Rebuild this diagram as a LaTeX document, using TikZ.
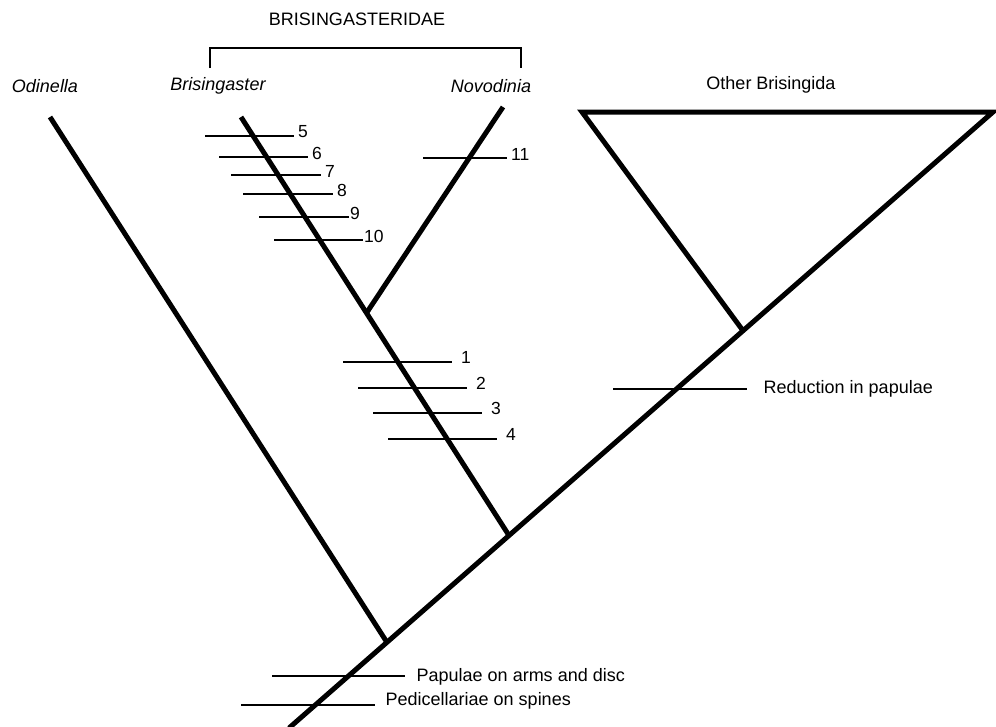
\documentclass[tikz,border=0pt]{standalone}
\usepackage{fontspec}
\setmainfont{Liberation Sans}
\usepackage{tikz}
\tikzstyle{branch}=[line width=5pt,line join=miter]
\tikzstyle{hatch}=[line width=2.4pt]
\tikzstyle{bracket}=[line width=2pt]
\tikzstyle{taxon}=[font=\fontsize{18}{20}\selectfont\itshape]
\tikzstyle{clade}=[font=\fontsize{18}{20}\selectfont]
\tikzstyle{num}=[anchor=west,inner sep=0pt,xshift=3pt,yshift=4pt,font=\fontsize{17.5}{20}\selectfont]
\tikzstyle{numnear}=[anchor=west,inner sep=0pt,xshift=0pt,yshift=4pt,font=\fontsize{17.5}{20}\selectfont]
\tikzstyle{numfar}=[anchor=west,inner sep=0pt,xshift=8pt,yshift=5pt,font=\fontsize{17.5}{20}\selectfont]
\tikzstyle{note}=[anchor=base west,inner sep=0pt,font=\fontsize{18}{20}\selectfont]

\begin{document}
\begin{tikzpicture}[x=1pt,y=-1pt]
  \useasboundingbox (0,0) rectangle (996,726);

  % names
  \node at (357,19) [clade] (fam) {BRISINGASTERIDAE};
  \node at (45,86) [taxon] (odinella) {Odinella};
  \node at (218,86) [taxon] (brisingaster) {Brisingaster};
  \node at (491,86) [taxon] (novodinia) {Novodinia};
  \node at (771,85) [clade] (other) {Other Brisingida};

  % bracket over the family
  \coordinate (bl) at (210,68);
  \coordinate (br) at (521,68);
  \draw [bracket] (bl) -- (210,48) -- (521,48) -- (br);

  % tree
  \coordinate (base) at (289,728);
  \coordinate (odi) at (50,117);
  \coordinate (bri) at (241,117);
  \coordinate (nov) at (503,107);
  \coordinate (otl) at (582,112);
  \coordinate (otr) at (993,112);
  \coordinate (jodi) at (387,642.4);
  \coordinate (jbri) at (509,535.5);
  \coordinate (joth) at (743,330.7);
  \coordinate (jnov) at (366.5,313);

  \draw [branch] (joth) -- (otl) -- (otr) -- (base);
  \draw [branch] (odi) -- (jodi);
  \draw [branch] (bri) -- (jbri);
  \draw [branch] (nov) -- (jnov);

  % characters on Brisingaster
  \coordinate (a5) at (205,136);
  \coordinate (b5) at (294,136);
  \draw [hatch] (a5) -- (b5) node [num] (n5) {5};
  \coordinate (a6) at (219,157);
  \coordinate (b6) at (308,157);
  \draw [hatch] (a6) -- (b6) node [num] (n6) {6};
  \coordinate (a7) at (231,175);
  \coordinate (b7) at (321,175);
  \draw [hatch] (a7) -- (b7) node [num] (n7) {7};
  \coordinate (a8) at (243,194);
  \coordinate (b8) at (333,194);
  \draw [hatch] (a8) -- (b8) node [num] (n8) {8};
  \coordinate (a9) at (259,217);
  \coordinate (b9) at (349,217);
  \draw [hatch] (a9) -- (b9) node [numnear] (n9) {9};
  \coordinate (a10) at (274,240);
  \coordinate (b10) at (363,240);
  \draw [hatch] (a10) -- (b10) node [numnear] (n10) {10};

  % character on Novodinia
  \coordinate (a11) at (423,158);
  \coordinate (b11) at (507,158);
  \draw [hatch] (a11) -- (b11) node [num] (n11) {11};

  % characters of the family
  \coordinate (a1) at (343,362);
  \coordinate (b1) at (452,362);
  \draw [hatch] (a1) -- (b1) node [numfar] (n1) {1};
  \coordinate (a2) at (358,388);
  \coordinate (b2) at (467,388);
  \draw [hatch] (a2) -- (b2) node [numfar] (n2) {2};
  \coordinate (a3) at (373,413);
  \coordinate (b3) at (482,413);
  \draw [hatch] (a3) -- (b3) node [numfar] (n3) {3};
  \coordinate (a4) at (388,439);
  \coordinate (b4) at (497,439);
  \draw [hatch] (a4) -- (b4) node [numfar] (n4) {4};

  % characters on the stem
  \coordinate (ar) at (613,389);
  \coordinate (br) at (747,389);
  \draw [hatch] (ar) -- (br) node [note,xshift=15.5pt,yshift=-4pt] (red) {Reduction in papulae};
  \coordinate (ap) at (272,676);
  \coordinate (bp) at (405,676);
  \draw [hatch] (ap) -- (bp) node [note,xshift=10.5pt,yshift=-5pt] (pap) {Papulae on arms and disc};
  \coordinate (as) at (241,705);
  \coordinate (bs) at (375,705);
  \draw [hatch] (as) -- (bs) node [note,xshift=9.5pt,yshift=0pt] (ped) {Pedicellariae on spines};
\end{tikzpicture}
\end{document}
